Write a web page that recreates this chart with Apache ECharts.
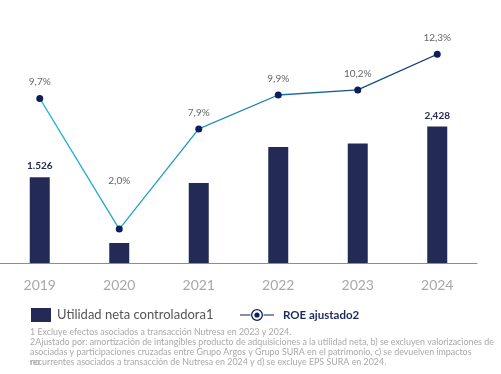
<!DOCTYPE html>
<html>
<head>
<meta charset="utf-8">
<script src="https://cdn.jsdelivr.net/npm/echarts@6/dist/echarts.min.js"></script>
<style>
html,body{margin:0;padding:0;background:#fff;}
#chart{width:501px;height:374px;}
</style>
</head>
<body>
<div id="chart"></div>
<script>
var categories = ['2019', '2020', '2021', '2022', '2023', '2024'];
var utilidadNeta = [1526, 356, 1424, 2065, 2129, 2428];
var utilidadLabels = ['1.526', '', '', '', '', '2,428'];
var roeAjustado = [9.7, 2.0, 7.9, 9.9, 10.2, 12.3];
var roeLabels = ['9,7%', '2,0%', '7,9%', '9,9%', '10,2%', '12,3%'];
var seriesNames = ['Utilidad neta controladora1', 'ROE ajustado2'];
var footnotes = [
  '1 Excluye efectos asociados a transacción Nutresa en 2023 y 2024.',
  '2Ajustado por: amortización de intangibles producto de adquisiciones a la utilidad neta, b) se excluyen valorizaciones de',
  'asociadas y participaciones cruzadas entre Grupo Argos y Grupo SURA en el patrimonio, c) se devuelven impactos',
  'recurrentes asociados a transacción de Nutresa en 2024 y d) se excluye EPS SURA en 2024.'
];
var footnoteOverlap = 'no';

var FONT = 'Lato, "Open Sans", sans-serif';
var chart = echarts.init(document.getElementById('chart'), null, {renderer: 'canvas'});

var roeIcon = 'path://M0 5.5L10.5 5.5L10.5 6.5L0 6.5Z M23.5 5.5L34 5.5L34 6.5L23.5 6.5Z ' +
  'M11 6A6 6 0 1 0 23 6A6 6 0 1 0 11 6Z M12.3 6A4.7 4.7 0 1 1 21.7 6A4.7 4.7 0 1 1 12.3 6Z ' +
  'M14.4 6A2.6 2.6 0 1 0 19.6 6A2.6 2.6 0 1 0 14.4 6Z';

var graphics = footnotes.map(function (t, i) {
  return {
    type: 'text', left: 30, top: 328 + i * 9.8,
    style: {text: t, fill: '#a9a9a9', font: '8.9px ' + FONT}
  };
});
graphics.push({
  type: 'text', left: 30, top: 328 + 3 * 9.8,
  style: {text: footnoteOverlap, fill: '#a9a9a9', font: '8.9px ' + FONT}
});

var roeData = roeAjustado.map(function (v, i) {
  var item = {value: v};
  if (i === 1) { item.label = {distance: 40}; }
  return item;
});

chart.setOption({
  animation: false,
  backgroundColor: '#ffffff',
  textStyle: {fontFamily: FONT},
  grid: {left: -3, right: 24, top: 40, bottom: 111, containLabel: false},
  legend: [
    {
      data: [seriesNames[0]],
      left: 26, top: 303,
      itemWidth: 20, itemHeight: 14,
      icon: 'rect',
      textStyle: {fontSize: 13, color: '#555555', fontFamily: FONT, padding: [0, 0, 0, 1]}
    },
    {
      data: [{name: seriesNames[1], icon: roeIcon, itemStyle: {color: '#0c1f5c'}}],
      left: 235, top: 304,
      itemWidth: 34, itemHeight: 12,
      textStyle: {fontSize: 11.5, color: '#1c2a5e', fontWeight: 'bold', fontFamily: FONT, padding: [0, 0, 0, 4]}
    }
  ],
  xAxis: {
    type: 'category',
    data: categories,
    axisTick: {show: false},
    axisLine: {lineStyle: {color: '#8c89a2', width: 1}},
    axisLabel: {color: '#a8a8a8', fontSize: 14, margin: 15, fontFamily: FONT}
  },
  yAxis: [
    {type: 'value', min: 0, max: 3969, show: false, splitLine: {show: false}},
    {type: 'value', min: 0, max: 13.14, show: false, splitLine: {show: false}}
  ],
  series: [
    {
      name: seriesNames[0],
      type: 'bar',
      yAxisIndex: 0,
      data: utilidadNeta,
      barWidth: 20,
      itemStyle: {color: '#242a56'},
      label: {
        show: true, position: 'top', distance: 6,
        formatter: function (p) { return utilidadLabels[p.dataIndex]; },
        color: '#242a56', fontSize: 10, fontWeight: 'bold', fontFamily: FONT
      }
    },
    {
      name: seriesNames[1],
      type: 'line',
      yAxisIndex: 1,
      data: roeData,
      symbol: 'circle',
      symbolSize: 7,
      z: 5,
      lineStyle: {
        width: 1.3,
        color: new echarts.graphic.LinearGradient(0, 0, 1, 0, [
          {offset: 0, color: '#23bad2'},
          {offset: 0.45, color: '#1d8fba'},
          {offset: 1, color: '#102c6e'}
        ])
      },
      itemStyle: {color: '#0c1f5c'},
      label: {
        show: true, position: 'top', distance: 8,
        formatter: function (p) { return roeLabels[p.dataIndex]; },
        color: '#666666', fontSize: 10, fontFamily: FONT
      }
    }
  ],
  graphic: graphics
});
</script>
</body>
</html>
